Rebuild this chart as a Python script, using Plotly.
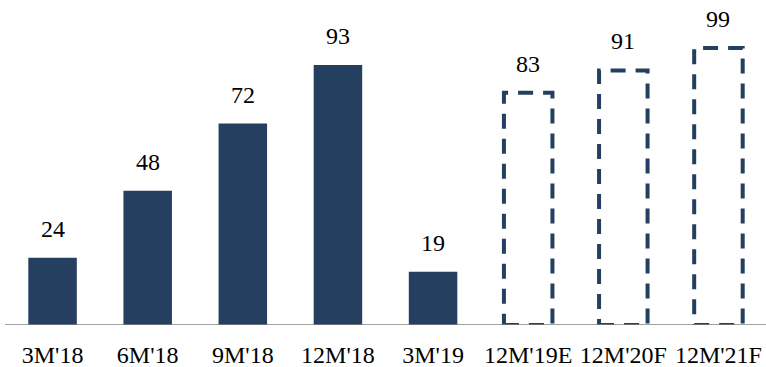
import plotly.graph_objects as go

categories = ["3M'18", "6M'18", "9M'18", "12M'18", "3M'19", "12M'19E", "12M'20F", "12M'21F"]
values = [24, 48, 72, 93, 19, 83, 91, 99]
is_forecast = [False, False, False, False, False, True, True, True]

NAVY = "#243F60"
FONT = "Liberation Serif"
BAR_HALF = 0.255

fig = go.Figure()

fig.add_trace(go.Bar(
    x=categories, y=[v if not f else 0 for v, f in zip(values, is_forecast)],
    marker=dict(color=NAVY, line=dict(width=0)),
    width=2 * BAR_HALF, hoverinfo="skip", showlegend=False,
))

shapes = []
for i, (v, f) in enumerate(zip(values, is_forecast)):
    if f:
        shapes.append(dict(
            type="rect", xref="x", yref="y",
            x0=i - BAR_HALF, x1=i + BAR_HALF, y0=0, y1=v,
            line=dict(color=NAVY, width=4, dash="15px,10px"),
            fillcolor="rgba(0,0,0,0)", layer="above",
        ))
# baseline
shapes.append(dict(type="line", xref="paper", yref="y", x0=0, x1=1, y0=0, y1=0,
                   line=dict(color="#808080", width=1.5)))

annotations = []
for i, v in enumerate(values):
    annotations.append(dict(
        x=i, y=v, xref="x", yref="y", text=str(v), showarrow=False,
        yanchor="bottom", yshift=14, font=dict(family=FONT, size=24, color="#000000"),
    ))

fig.update_layout(
    width=766, height=367,
    margin=dict(l=5, r=0, t=0, b=42),
    font=dict(family=FONT, size=24, color="#000000"),
    paper_bgcolor="white", plot_bgcolor="white",
    shapes=shapes, annotations=annotations,
    xaxis=dict(
        type="category", range=[-0.5, 7.5], showgrid=False, zeroline=False,
        showline=False, ticks="", ticklabelstandoff=13,
        tickfont=dict(family=FONT, size=24, color="#000000"),
    ),
    yaxis=dict(range=[0, 116.2], visible=False, showgrid=False, zeroline=False),
    bargap=0.5,
)

fig.write_html("out.html")
